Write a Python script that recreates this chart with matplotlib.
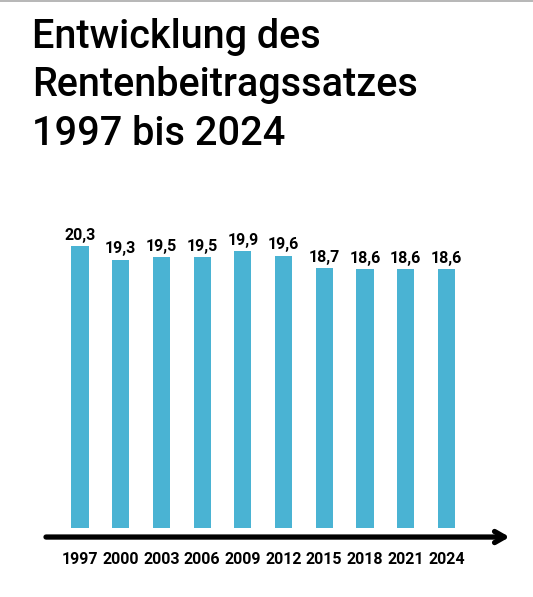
import matplotlib
matplotlib.use("Agg")
from matplotlib import pyplot as plt
from matplotlib.lines import Line2D

years = ["1997", "2000", "2003", "2006", "2009", "2012", "2015", "2018", "2021", "2024"]
rates = [20.3, 19.3, 19.5, 19.5, 19.9, 19.6, 18.7, 18.6, 18.6, 18.6]
value_labels = ["20,3", "19,3", "19,5", "19,5", "19,9", "19,6", "18,7", "18,6", "18,6", "18,6"]
title_lines = ["Entwicklung des", "Rentenbeitragssatzes", "1997 bis 2024"]

plt.rcParams["font.family"] = ["Roboto", "DejaVu Sans"]

W, H = 533, 597
fig = plt.figure(figsize=(W / 100, H / 100), dpi=100)
fig.patch.set_facecolor("white")

# thin grey line on the very top edge
fig.add_artist(Line2D([0, 1], [1 - 1 / H, 1 - 1 / H], color="#aaaaaa", lw=1.2))

# title, three lines
for i, line in enumerate(title_lines):
    fig.text(32 / W, 1 - (48 + i * 48.5) / H, line, fontsize=28.5, fontweight="medium",
             color="black", ha="left", va="baseline")

# plot area: bar bottoms at y=528px, ~13.9 px per percent point
ax = fig.add_axes([46 / W, (H - 528) / H, 459 / W, 328 / H])
ax.set_xlim(-0.835, 10.44)
ax.set_ylim(0, 328 / 13.9)
ax.axis("off")

x = list(range(len(years)))
bars = ax.bar(x, rates, width=0.42, color="#4ab3d3")

for xi, r, lab in zip(x, rates, value_labels):
    ax.annotate(lab, (xi, r), xytext=(0, 4.5), textcoords="offset points",
                ha="center", va="baseline", fontsize=11.5, fontweight="bold")

# x axis with arrow
ax.annotate("", xy=(1.01, -0.65), xytext=(0.0, -0.65),
            xycoords=("axes fraction", "data"), textcoords=("axes fraction", "data"),
            arrowprops=dict(arrowstyle="->,head_length=0.7,head_width=0.4",
                            lw=3.8, color="black", shrinkA=0, shrinkB=0),
            annotation_clip=False)

for xi, yr in zip(x, years):
    ax.annotate(yr, (xi, 0), xytext=(0, -35.5 * 0.72), textcoords="offset points",
                ha="center", va="baseline", fontsize=11.5, fontweight="bold",
                annotation_clip=False)

fig.savefig("out.png", dpi=100, facecolor="white")
